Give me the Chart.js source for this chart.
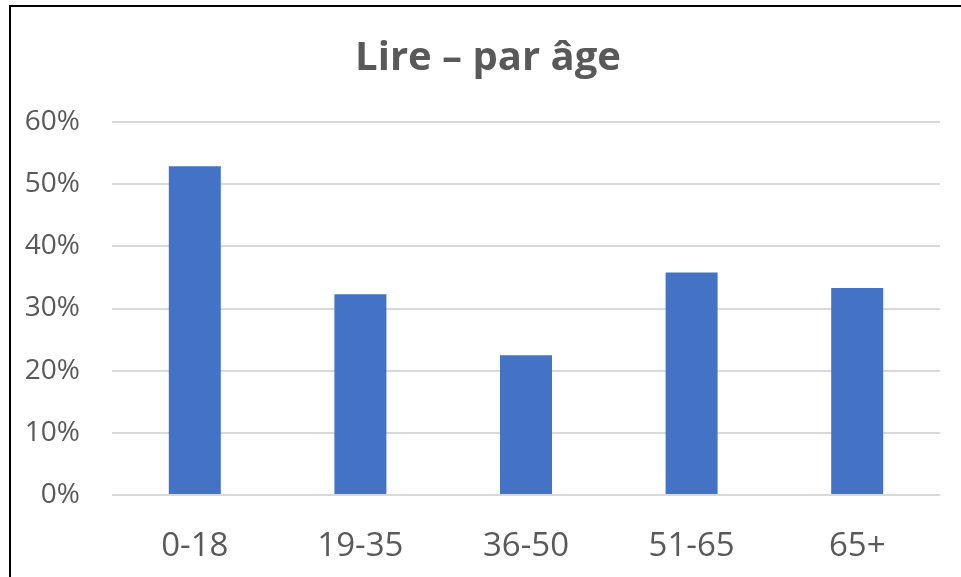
<!DOCTYPE html>
<html>
<head>
<meta charset="utf-8">
<title>Lire – par âge</title>
<script src="https://cdn.jsdelivr.net/npm/chart.js@4"></script>
<style>
  html, body { margin: 0; padding: 0; background: #fff; overflow: hidden; }
  #wrap { position: relative; width: 961px; height: 577px; }
  #frame {
    position: absolute; left: 9px; top: 5px; width: 2000px; height: 2000px;
    border-top: 2px solid #000; border-left: 2px solid #000; pointer-events: none;
  }
</style>
</head>
<body>
<div id="wrap">
  <canvas id="myChart" width="961" height="577"></canvas>
  <div id="frame"></div>
</div>
<script>
// data
const ageGroups = ['0-18', '19-35', '36-50', '51-65', '65+'];
const readingShare = [52.9, 32.3, 22.5, 35.8, 33.3];
const tickValues = [0, 10, 20, 30, 40, 50, 60];

const textGrey = '#595959';

// the original title sits a little right of the canvas centre
const nudgeTitle = {
  id: 'nudgeTitle',
  afterLayout(chart) {
    if (chart.titleBlock) chart.titleBlock.left += 18;
  }
};

const config = {
  type: 'bar',
  data: {
    labels: ageGroups,
    datasets: [{
      label: 'Lire',
      data: readingShare,
      backgroundColor: '#4472C4',
      borderWidth: 0,
      categoryPercentage: 1,
      barPercentage: 0.314
    }]
  },
  options: {
    responsive: false,
    animation: false,
    layout: { padding: { top: 0, left: 18, right: 21, bottom: 0 } },
    plugins: {
      legend: { display: false },
      tooltip: { enabled: false },
      title: {
        display: true,
        text: 'Lire – par âge',
        color: textGrey,
        font: { family: 'Open Sans', size: 40, weight: 'bold' },
        padding: { top: 35, bottom: 39 }
      }
    },
    scales: {
      x: {
        grid: { display: false },
        border: { display: false },
        ticks: {
          color: textGrey,
          font: { family: 'Open Sans', size: 33 },
          padding: 24
        },
        afterFit: function (scale) { scale.height = 82; }
      },
      y: {
        min: tickValues[0],
        max: tickValues[tickValues.length - 1],
        border: { display: false },
        grid: { color: '#d9d9d9', lineWidth: 2, drawTicks: false },
        ticks: {
          stepSize: 10,
          color: textGrey,
          font: { family: 'Open Sans', size: 28 },
          padding: 32,
          callback: function (v) { return v + '%'; }
        },
        afterFit: function (scale) { scale.width = 94; }
      }
    }
  },
  plugins: [nudgeTitle]
};

new Chart(document.getElementById('myChart'), config);
</script>
</body>
</html>
